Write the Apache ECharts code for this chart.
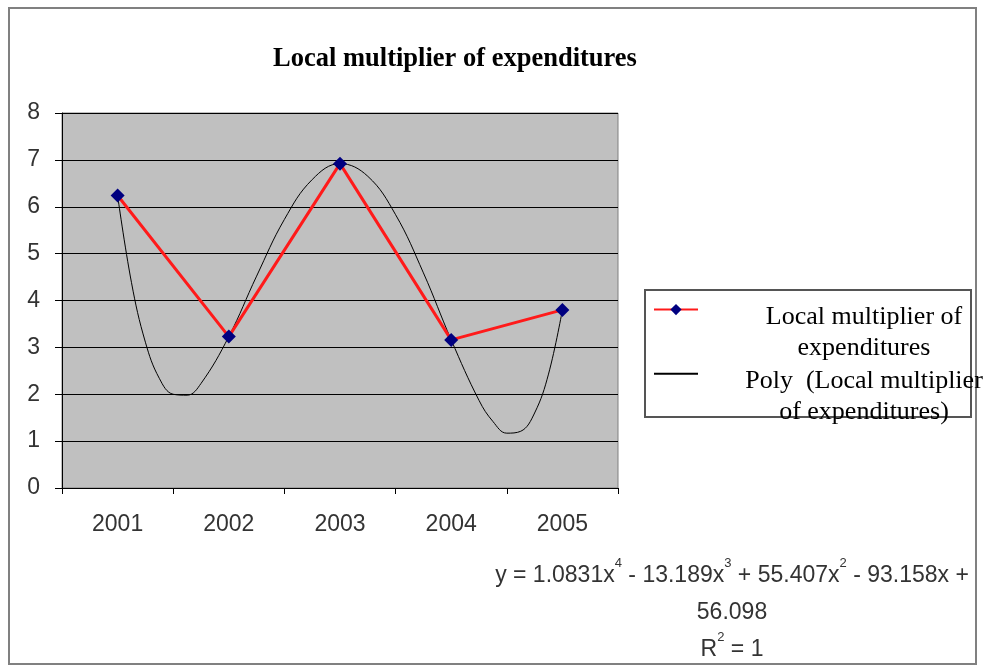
<!DOCTYPE html>
<html>
<head>
<meta charset="utf-8">
<script src="https://cdn.jsdelivr.net/npm/echarts@6/dist/echarts.min.js"></script>
<style>
html,body{margin:0;padding:0;background:#fff;}
#chart{width:990px;height:665px;}
</style>
</head>
<body>
<div id="chart"></div>
<script>
// ---- data ----
const categories = ['2001', '2002', '2003', '2004', '2005'];
const multiplier = [6.24, 3.23, 6.92, 3.16, 3.80];
const polyX = [1, 1.125, 1.25, 1.375, 1.5, 1.625, 1.75, 2, 2.25, 2.5, 2.75, 3, 3.25, 3.5, 3.75, 4, 4.25, 4.375, 4.5, 4.625, 4.75, 4.875, 5];
const polyY = [6.24, 4.38, 3.11, 2.34, 2.00, 1.98, 2.23, 3.23, 4.52, 5.73, 6.58, 6.92, 6.65, 5.83, 4.59, 3.16, 1.87, 1.42, 1.17, 1.21, 1.60, 2.43, 3.80];
const yTicks = [0, 1, 2, 3, 4, 5, 6, 7, 8];
const titleText = 'Local multiplier of expenditures';
const seriesName1 = 'Local multiplier of expenditures';
const seriesName2 = 'Poly  (Local multiplier of expenditures)';
const legendLines = {};
legendLines[seriesName1] = ['Local multiplier of', 'expenditures'];
legendLines[seriesName2] = ['Poly  (Local multiplier', 'of expenditures)'];

const polyData = polyX.map((x, i) => [x, polyY[i]]);

const chart = echarts.init(document.getElementById('chart'), null, {renderer: 'canvas'});
const serif = '"Liberation Serif", "Times New Roman", serif';
const sans = '"Liberation Sans", Arial, sans-serif';

const option = {
  backgroundColor: '#ffffff',
  animation: false,
  title: {
    text: titleText,
    left: 455,
    textAlign: 'center',
    top: 46,
    padding: 0,
    textStyle: {fontFamily: serif, fontWeight: 'bold', fontSize: 26.5, color: '#000'}
  },
  grid: {
    left: 62, top: 113, width: 556, height: 375,
    show: true, backgroundColor: '#c0c0c0', borderColor: '#808080', borderWidth: 1,
    containLabel: false
  },
  legend: {
    orient: 'vertical',
    left: 653,
    top: 304,
    padding: 0,
    itemWidth: 44,
    itemHeight: 14,
    itemGap: 7,
    selectedMode: false,
    data: [
      {name: seriesName1},
      {name: seriesName2, itemStyle: {color: 'rgba(0,0,0,0)', borderColor: 'rgba(0,0,0,0)', borderWidth: 0}}
    ],
    formatter: function (name) {
      return legendLines[name].map(l => '{t|' + l + '}').join('\n');
    },
    textStyle: {
      fontFamily: serif, fontSize: 26, color: '#000',
      padding: [46, 0, 0, 0],
      rich: {
        t: {fontFamily: serif, fontSize: 26, lineHeight: 31, width: 322, align: 'center', color: '#000'}
      }
    }
  },
  xAxis: [
    {
      type: 'category',
      data: categories,
      boundaryGap: true,
      axisLine: {show: true, lineStyle: {color: '#000', width: 1}},
      axisTick: {show: true, length: 6, inside: false, lineStyle: {color: '#000'}},
      axisLabel: {margin: 25, fontFamily: sans, fontSize: 23, color: '#333'},
      splitLine: {show: false}
    },
    {
      type: 'value',
      min: 0.5, max: 5.5,
      show: false,
      splitLine: {show: false}
    }
  ],
  yAxis: {
    type: 'value',
    min: yTicks[0], max: yTicks[yTicks.length - 1], interval: 1,
    axisLine: {show: true, lineStyle: {color: '#000', width: 1}},
    axisTick: {show: true, length: 7, lineStyle: {color: '#000'}},
    axisLabel: {margin: 22, fontFamily: sans, fontSize: 23, color: '#333'},
    splitLine: {show: true, lineStyle: {color: '#000', width: 1}}
  },
  series: [
    {
      name: seriesName2,
      type: 'line',
      xAxisIndex: 1,
      data: polyData,
      smooth: 0.4,
      showSymbol: false,
      symbol: 'none',
      lineStyle: {color: '#000', width: 1},
      itemStyle: {color: '#000'},
      z: 2
    },
    {
      name: seriesName1,
      type: 'line',
      xAxisIndex: 0,
      data: multiplier,
      symbol: 'diamond',
      symbolSize: 14,
      lineStyle: {color: '#ff1a1a', width: 3},
      itemStyle: {color: '#000080'},
      z: 3
    }
  ],
  graphic: [
    {
      type: 'rect', z: 0, silent: true,
      shape: {x: 9, y: 8, width: 967, height: 656},
      style: {fill: 'none', stroke: '#808080', lineWidth: 2}
    },
    {
      type: 'rect', z: 1, silent: true,
      shape: {x: 645, y: 290, width: 326, height: 127},
      style: {fill: 'none', stroke: '#555', lineWidth: 2}
    },
    {
      type: 'text', z: 5, silent: true,
      x: 732, y: 557,
      style: {
        text: '{n|y = 1.0831x}{s|4}{n| - 13.189x}{s|3}{n| + 55.407x}{s|2}{n| - 93.158x +}\n{n|56.098}\n{n|R}{s|2}{n| = 1}',
        align: 'center', verticalAlign: 'top',
        fill: '#333',
        rich: {
          n: {fontFamily: sans, fontSize: 23, lineHeight: 37, color: '#333'},
          s: {fontFamily: sans, fontSize: 13, lineHeight: 26, verticalAlign: 'top', color: '#333'}
        }
      }
    }
  ]
};
chart.setOption(option);
</script>
</body>
</html>
